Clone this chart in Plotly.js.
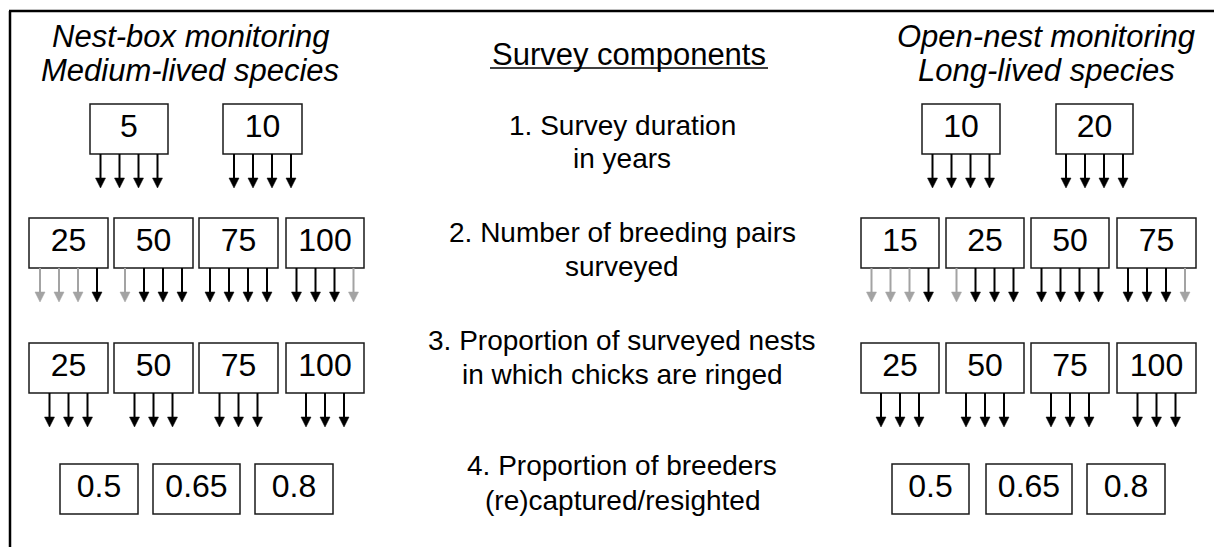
<!DOCTYPE html>
<html><head><meta charset="utf-8">
<script src="https://cdn.plot.ly/plotly-3.0.1.min.js"></script>
<style>html,body{margin:0;padding:0;background:#fff;overflow:hidden}#chart{width:1214px;height:547px;}</style>
</head><body><div id="chart"></div>
<script>
// ---------------- data ----------------
const componentTitle = "Survey components";
const componentLines = [
  ["1. Survey duration", "in years"],
  ["2. Number of breeding pairs", "surveyed"],
  ["3. Proportion of surveyed nests", "in which chicks are ringed"],
  ["4. Proportion of breeders", "(re)captured/resighted"]
];
const leftTitle = ["Nest-box monitoring", "Medium-lived species"];
const rightTitle = ["Open-nest monitoring", "Long-lived species"];
const leftDuration = ["5", "10"];
const rightDuration = ["10", "20"];
const leftPairs = ["25", "50", "75", "100"];
const rightPairs = ["15", "25", "50", "75"];
const ringedPct = ["25", "50", "75", "100"];
const captureProb = ["0.5", "0.65", "0.8"];
// arrows below each box: 1 = black (retained), 0 = grey
const durationArrows = [1, 1, 1, 1];
const leftPairArrows = [[0, 0, 0, 1], [0, 1, 1, 1], [1, 1, 1, 1], [1, 1, 1, 0]];
const rightPairArrows = [[0, 0, 0, 1], [0, 1, 1, 1], [1, 1, 1, 1], [1, 1, 1, 0]];
const ringedArrows = [1, 1, 1];

// ---------------- layout (pixel geometry) ----------------
const W = 1214, H = 547;
const ROW_Y = { dur: [104, 154], pairs: [218, 268], ring: [343, 393], cap: [464, 514] };
const BOX_X = {
  leftDur: [[90, 168], [223, 302]],
  rightDur: [[922, 1000], [1056, 1133]],
  leftFour: [[29, 108], [114, 193], [199, 278], [286, 364]],
  rightFour: [[861, 939], [946, 1024], [1031, 1109], [1117, 1196]],
  leftCap: [[60, 138], [153, 240], [255, 333]],
  rightCap: [[892, 969], [986, 1072], [1087, 1165]]
};
const ARROW_LEN = 34, ARROW_STEP = 19, HEAD_W = 10, HEAD_H = 10;
const BLACK = "#000000", GREY = "#a3a3a3";
const FONT = "Liberation Sans, Arial, sans-serif";
const TITLE_Y = [36, 70];
const COMP_Y = [[125, 158], [232, 266], [340, 374], [465, 500]];
const CENTER_X = 622;

const shapes = [];
const labelX = [], labelY = [], labelT = [];

function addBoxes(xs, row, labels, arrowSets) {
  const [y0, y1] = ROW_Y[row];
  xs.forEach((xr, i) => {
    shapes.push({ type: "rect", xref: "x", yref: "y", x0: xr[0], x1: xr[1], y0: y0, y1: y1,
      line: { color: "#1a1a1a", width: 1.5 }, fillcolor: "rgba(0,0,0,0)" });
    const cx = (xr[0] + xr[1]) / 2;
    labelX.push(cx); labelY.push((y0 + y1) / 2); labelT.push(labels[i]);
    if (arrowSets) {
      const set = arrowSets[i];
      const n = set.length;
      set.forEach((s, k) => {
        const ax = cx + (k - (n - 1) / 2) * ARROW_STEP;
        const col = s ? BLACK : GREY;
        const tip = y1 + ARROW_LEN;
        shapes.push({ type: "line", xref: "x", yref: "y", x0: ax, x1: ax, y0: y1, y1: tip - HEAD_H + 1,
          line: { color: col, width: 2 } });
        shapes.push({ type: "path", xref: "x", yref: "y",
          path: `M${ax - HEAD_W / 2},${tip - HEAD_H} L${ax + HEAD_W / 2},${tip - HEAD_H} L${ax},${tip} Z`,
          fillcolor: col, line: { color: col, width: 0.5 } });
      });
    }
  });
}

addBoxes(BOX_X.leftDur, "dur", leftDuration, leftDuration.map(() => durationArrows));
addBoxes(BOX_X.rightDur, "dur", rightDuration, rightDuration.map(() => durationArrows));
addBoxes(BOX_X.leftFour, "pairs", leftPairs, leftPairArrows);
addBoxes(BOX_X.rightFour, "pairs", rightPairs, rightPairArrows);
addBoxes(BOX_X.leftFour, "ring", ringedPct, ringedPct.map(() => ringedArrows));
addBoxes(BOX_X.rightFour, "ring", ringedPct, ringedPct.map(() => ringedArrows));
addBoxes(BOX_X.leftCap, "cap", captureProb, null);
addBoxes(BOX_X.rightCap, "cap", captureProb, null);

// frame (left and top borders)
shapes.push({ type: "line", xref: "x", yref: "y", x0: 10, x1: 10, y0: 11, y1: H, line: { color: "#000", width: 2.5 } });
shapes.push({ type: "line", xref: "x", yref: "y", x0: 9, x1: W, y0: 11, y1: 11, line: { color: "#000", width: 2.5 } });
// underline of centre heading
shapes.push({ type: "line", xref: "x", yref: "y", x0: 490, x1: 768, y0: 68, y1: 68, line: { color: "#000", width: 1.5 } });

function ann(text, x, y, size) {
  return { text: text, x: x, y: y, xref: "x", yref: "y", showarrow: false, xanchor: "center", yanchor: "middle",
    font: { family: FONT, size: size, color: "#000" } };
}
const annotations = [];
leftTitle.forEach((t, i) => annotations.push(ann("<i>" + t + "</i>", 190, TITLE_Y[i], 31)));
rightTitle.forEach((t, i) => annotations.push(ann("<i>" + t + "</i>", 1046, TITLE_Y[i], 31)));
annotations.push(ann(componentTitle, 629, 54, 31));
componentLines.forEach((lines, i) => lines.forEach((t, j) => annotations.push(ann(t, CENTER_X, COMP_Y[i][j], 28))));

const traces = [{
  type: "scatter", mode: "text", x: labelX, y: labelY, text: labelT,
  textposition: "middle center", textfont: { family: FONT, size: 32, color: "#000" },
  hoverinfo: "skip", showlegend: false
}];

Plotly.newPlot("chart", traces, {
  width: W, height: H, margin: { l: 0, r: 0, t: 0, b: 0 },
  paper_bgcolor: "#fff", plot_bgcolor: "#fff",
  xaxis: { range: [0, W], visible: false, fixedrange: true },
  yaxis: { range: [H, 0], visible: false, fixedrange: true },
  shapes: shapes, annotations: annotations, showlegend: false
}, { staticPlot: true, displayModeBar: false });
</script></body></html>
